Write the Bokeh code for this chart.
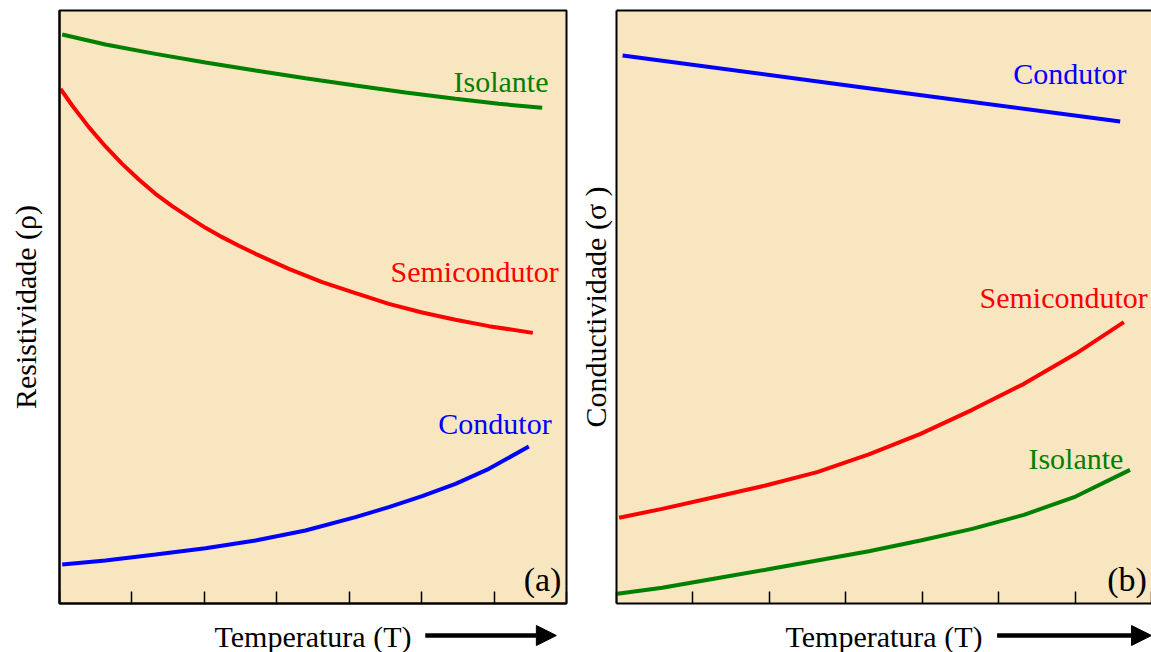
from bokeh.plotting import figure
from bokeh.models import Range1d, FixedTicker, LinearAxis, Arrow, NormalHead
from bokeh.layouts import row, column
from bokeh.embed import file_html
from bokeh.resources import INLINE
from bokeh.core.properties import value

# ---------------- data (arbitrary units, x: temperature 0..7, y: 0..100) ----------------
x_ticks = [0, 1, 2, 3, 4, 5, 6, 7]

# (a) resistivity
res_isolante_x = [0.037, 0.635, 1.325, 2.016, 2.706, 3.396, 4.087, 4.777, 5.467, 6.066, 6.664]
res_isolante_y = [95.95, 94.27, 92.69, 91.23, 89.88, 88.59, 87.35, 86.17, 85.10, 84.26, 83.59]

res_semi_x = [0.014, 0.175, 0.405, 0.635, 0.865, 1.095, 1.325, 1.556, 1.786, 2.016, 2.246,
              2.476, 2.706, 3.166, 3.627, 4.087, 4.547, 5.007, 5.467, 5.928, 6.535]
res_semi_y = [86.79, 83.98, 80.33, 77.07, 74.14, 71.50, 69.08, 67.00, 65.15, 63.35, 61.78,
              60.32, 58.97, 56.44, 54.19, 52.33, 50.53, 49.07, 47.84, 46.77, 45.64]

res_cond_x = [0.037, 0.635, 1.325, 2.016, 2.706, 3.396, 4.087, 4.547, 5.007, 5.467, 5.928, 6.480]
res_cond_y = [6.58, 7.25, 8.26, 9.33, 10.62, 12.31, 14.56, 16.24, 18.10, 20.18, 22.71, 26.48]

# (b) conductivity
con_cond_x = [0.08, 3.32, 6.59]
con_cond_y = [92.41, 86.85, 81.28]

con_semi_x = [0.034, 0.598, 1.274, 1.950, 2.626, 3.302, 3.978, 4.654, 5.331, 6.007, 6.638]
con_semi_y = [14.45, 15.96, 17.93, 19.90, 22.15, 25.13, 28.61, 32.66, 37.04, 42.10, 47.44]

con_isol_x = [0.012, 0.598, 1.274, 1.950, 2.626, 3.302, 3.978, 4.654, 5.331, 6.007, 6.719]
con_isol_y = [1.63, 2.64, 4.16, 5.68, 7.25, 8.82, 10.62, 12.59, 14.95, 18.04, 22.54]

BG = "#F8E6C1"
GREEN = "#008000"
RED = "#FF0000"
BLUE = "#0000FF"
FONT = "Liberation Serif"
FS = "30px"
LW = 4


def bare_axis(ticks, tick_in=0):
    return LinearAxis(ticker=FixedTicker(ticks=ticks),
                      major_tick_in=tick_in, major_tick_out=0,
                      minor_tick_in=0, minor_tick_out=0,
                      major_label_overrides={t: "" for t in ticks},
                      major_label_text_font_size="0px",
                      major_label_standoff=0,
                      axis_line_color="black", axis_line_width=2,
                      major_tick_line_color="black", major_tick_line_width=1.5)


def make_fig(width, bl, br, ylabel, standoff, outline):
    p = figure(width=width, height=612, x_range=Range1d(0, 7), y_range=Range1d(0, 100),
               output_backend="svg", toolbar_location=None,
               min_border_left=bl, min_border_right=br, min_border_top=10, min_border_bottom=9,
               background_fill_color=BG, border_fill_color="white",
               x_axis_type=None, y_axis_type=None)
    p.add_layout(bare_axis(x_ticks, 12), "below")
    yax = bare_axis([])
    yax.axis_label = ylabel
    yax.axis_label_text_font = FONT
    yax.axis_label_text_font_size = FS
    yax.axis_label_text_font_style = "normal"
    yax.axis_label_text_color = "black"
    yax.axis_label_standoff = standoff
    p.add_layout(yax, "left")
    if outline:
        p.outline_line_color = "black"
        p.outline_line_width = 2
    else:
        p.outline_line_color = None
        p.add_layout(bare_axis([]), "above")
    return p


def strip(width, bl, br, xa0, xa1):
    s = figure(width=width, height=40, x_range=Range1d(0, 7), y_range=Range1d(0, 1),
               output_backend="svg", toolbar_location=None,
               min_border_left=bl, min_border_right=br, min_border_top=0, min_border_bottom=0,
               background_fill_color="white", border_fill_color="white",
               x_axis_type=None, y_axis_type=None)
    s.outline_line_color = None
    s.text(x=[3.5], y=[0.40], text=["Temperatura (T)"], text_font=value(FONT),
           text_font_size=value(FS), text_align="center", text_baseline="alphabetic",
           text_color="black")
    s.add_layout(Arrow(end=NormalHead(size=20, fill_color="black", line_color="black", line_width=1),
                       x_start=xa0, y_start=0.425, x_end=xa1, y_end=0.425,
                       line_color="black", line_width=4.5))
    return s


def lab(p, x, y, text, color="black", align="left", size=FS):
    p.text(x=[x], y=[y], text=[text], text_color=color, text_align=align,
           text_baseline="alphabetic", text_font=value(FONT), text_font_size=value(size))


# ---------------- panel (a) ----------------
p1 = make_fig(575, 59, 9, "Resistividade (ρ)", 18, True)
p1.line(res_isolante_x, res_isolante_y, line_color=GREEN, line_width=LW)
p1.line(res_semi_x, res_semi_y, line_color=RED, line_width=LW)
p1.line(res_cond_x, res_cond_y, line_color=BLUE, line_width=LW)
lab(p1, 5.44, 88.0, "Isolante", GREEN)
lab(p1, 4.57, 56.0, "Semicondutor", RED)
lab(p1, 5.23, 30.3, "Condutor", BLUE)
lab(p1, 6.93, 4.0, "(a)", align="right", size="34px")

# ---------------- panel (b) ----------------
p2 = make_fig(576, 41, 0, "Conductividade (σ )", 5, False)
p2.line(con_cond_x, con_cond_y, line_color=BLUE, line_width=LW)
p2.line(con_semi_x, con_semi_y, line_color=RED, line_width=LW)
p2.line(con_isol_x, con_isol_y, line_color=GREEN, line_width=LW)
lab(p2, 5.19, 89.4, "Condutor", BLUE)
lab(p2, 4.75, 51.6, "Semicondutor", RED)
lab(p2, 5.39, 24.5, "Isolante", GREEN)
lab(p2, 6.94, 4.0, "(b)", align="right", size="34px")

s1 = strip(575, 59, 9, 5.05, 6.86)
s2 = strip(576, 41, 0, 4.98, 7.0)

layout = column(row(p1, p2), row(s1, s2))
open("out.html", "w").write(file_html(layout, INLINE))
